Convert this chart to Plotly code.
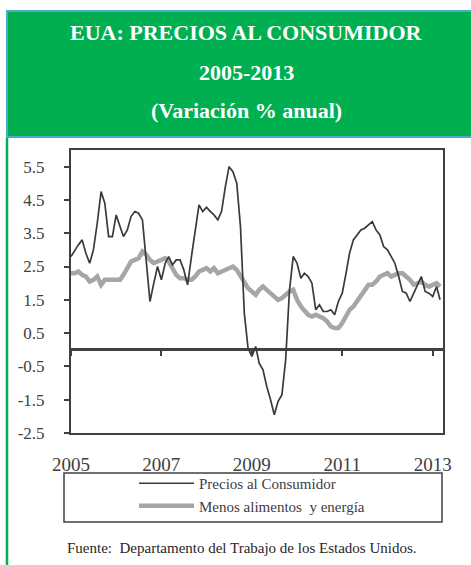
import plotly.graph_objects as go
import pandas as pd

# ---------------- data (monthly, Jan 2005 - Mar 2013) ----------------
cpi_2005 = [2.8, 3.0, 3.15, 3.3, 2.9, 2.6, 3.0, 3.8, 4.75, 4.4, 3.4, 3.4]
cpi_2006 = [4.05, 3.7, 3.4, 3.6, 4.0, 4.15, 4.1, 3.9, 2.7, 1.45, 2.0, 2.5]
cpi_2007 = [2.1, 2.6, 2.8, 2.55, 2.7, 2.7, 2.4, 1.95, 2.8, 3.5, 4.35, 4.15]
cpi_2008 = [4.28, 4.15, 4.05, 3.9, 4.15, 4.9, 5.5, 5.35, 5.0, 3.7, 1.1, 0.05]
cpi_2009 = [-0.2, 0.1, -0.4, -0.6, -1.1, -1.5, -1.95, -1.55, -1.35, -0.3, 1.8, 2.8]
cpi_2010 = [2.6, 2.15, 2.3, 2.2, 2.0, 1.2, 1.35, 1.15, 1.15, 1.2, 1.05, 1.45]
cpi_2011 = [1.7, 2.3, 2.9, 3.3, 3.45, 3.6, 3.65, 3.75, 3.85, 3.6, 3.45, 3.1]
cpi_2012 = [3.0, 2.8, 2.6, 2.2, 1.75, 1.7, 1.45, 1.7, 1.95, 2.2, 1.75, 1.7]
cpi_2013 = [1.6, 1.9, 1.5]

core_2005 = [2.3, 2.3, 2.35, 2.25, 2.2, 2.05, 2.1, 2.2, 1.95, 2.1, 2.1, 2.1]
core_2006 = [2.1, 2.1, 2.25, 2.45, 2.65, 2.7, 2.75, 2.95, 2.85, 2.7, 2.6, 2.65]
core_2007 = [2.7, 2.75, 2.65, 2.45, 2.25, 2.15, 2.15, 2.1, 2.1, 2.2, 2.35, 2.4]
core_2008 = [2.45, 2.35, 2.45, 2.3, 2.35, 2.4, 2.45, 2.5, 2.4, 2.2, 2.05, 1.85]
core_2009 = [1.75, 1.65, 1.8, 1.9, 1.8, 1.7, 1.6, 1.5, 1.55, 1.65, 1.75, 1.8]
core_2010 = [1.5, 1.3, 1.2, 1.05, 1.0, 1.05, 1.0, 0.95, 0.85, 0.7, 0.65, 0.65]
core_2011 = [0.8, 1.05, 1.2, 1.3, 1.45, 1.6, 1.8, 1.95, 1.95, 2.05, 2.2, 2.25]
core_2012 = [2.3, 2.2, 2.25, 2.3, 2.3, 2.2, 2.1, 1.95, 2.0, 2.05, 1.95, 1.9]
core_2013 = [1.95, 2.0, 1.9]

cpi = (cpi_2005 + cpi_2006 + cpi_2007 + cpi_2008 + cpi_2009 + cpi_2010
       + cpi_2011 + cpi_2012 + cpi_2013)
core = (core_2005 + core_2006 + core_2007 + core_2008 + core_2009 + core_2010
        + core_2011 + core_2012 + core_2013)
months = pd.date_range("2005-01-01", periods=len(cpi), freq="MS")

series_names = ["Precios al Consumidor", "Menos alimentos  y energía"]
year_ticks = ["2005", "2007", "2009", "2011", "2013"]
y_ticks = [5.5, 4.5, 3.5, 2.5, 1.5, 0.5, -0.5, -1.5, -2.5]
title_lines = ["EUA: PRECIOS AL CONSUMIDOR", "2005-2013", "(Variación % anual)"]
source_text = "Fuente:  Departamento del Trabajo de los Estados Unidos."

# ---------------- figure ----------------
W, H = 471, 565
L, R, T, B = 71, 28, 150, 132
pw, ph = W - L - R, H - T - B
YMIN, YMAX = -2.5, 6.0

def px_x(px):
    return (px - L) / pw

def px_y(py):
    return (H - B - py) / ph

FONT = "Liberation Serif"
DARK = "#404040"
GREEN = "#00B050"

fig = go.Figure()
fig.add_trace(go.Scatter(x=months, y=core, name=series_names[1], mode="lines",
                         line=dict(color="#A6A6A6", width=4.5), xaxis="x", yaxis="y"))
fig.add_trace(go.Scatter(x=months, y=cpi, name=series_names[0], mode="lines",
                         line=dict(color="#3A3A3A", width=1.7), xaxis="x2", yaxis="y"))

xrange = ["2005-01-01", "2013-03-25"]
tickvals = [f"{y}-01-01" for y in year_ticks]

fig.update_layout(
    width=W, height=H, autosize=False,
    margin=dict(l=L, r=R, t=T, b=B),
    paper_bgcolor="white", plot_bgcolor="white",
    font=dict(family=FONT, color=DARK),
    showlegend=True,
    legend=dict(x=px_x(134), y=px_y(467), xanchor="left", yanchor="top",
                bgcolor="rgba(0,0,0,0)", borderwidth=0,
                font=dict(family=FONT, size=15, color=DARK),
                itemwidth=55, traceorder="reversed", tracegroupgap=0),
    xaxis=dict(type="date", range=xrange, tickvals=tickvals, ticktext=year_ticks,
               showgrid=False, zeroline=False, ticks="",
               showline=True, linecolor=DARK, linewidth=2, mirror=True,
               tickfont=dict(family=FONT, size=19, color=DARK),
               ticklabelstandoff=13),
    xaxis2=dict(type="date", range=xrange, tickvals=tickvals, showticklabels=False,
                overlaying="x", anchor="free",
                position=(0 - YMIN) / (YMAX - YMIN), side="bottom",
                ticks="outside", ticklen=5, tickwidth=1.5, tickcolor=DARK,
                showgrid=False, zeroline=False, showline=False),
    yaxis=dict(range=[YMIN, YMAX], tickvals=y_ticks, ticktext=[f"{v:.1f}" for v in y_ticks],
               showgrid=False, zeroline=True, zerolinecolor=DARK, zerolinewidth=2.5,
               ticks="outside", ticklen=5, tickwidth=1.5, tickcolor=DARK,
               showline=True, linecolor=DARK, linewidth=2, mirror=True,
               tickfont=dict(family=FONT, size=17, color=DARK),
               ticklabelstandoff=16),
)

shapes = [
    # green title banner
    dict(type="rect", xref="paper", yref="paper",
         x0=px_x(7), x1=px_x(480), y0=px_y(137), y1=px_y(11),
         fillcolor=GREEN, line=dict(color="#4BACC6", width=2), layer="below"),
    # green frame line on the left
    dict(type="line", xref="paper", yref="paper",
         x0=px_x(7), x1=px_x(7), y0=px_y(138), y1=px_y(570),
         line=dict(color=GREEN, width=2.5)),
    # legend box
    dict(type="rect", xref="paper", yref="paper",
         x0=px_x(64), x1=px_x(442), y0=px_y(522), y1=px_y(473),
         line=dict(color=DARK, width=1.5), fillcolor="rgba(0,0,0,0)"),
]
fig.update_layout(shapes=shapes)

annotations = []
for text, py in zip(title_lines, [33, 72, 110]):
    annotations.append(dict(text=f"<b>{text}</b>", xref="paper", yref="paper",
                            x=px_x(246), y=px_y(py), xanchor="center", yanchor="middle",
                            showarrow=False,
                            font=dict(family=FONT, size=22, color="white")))
annotations.append(dict(text=source_text, xref="paper", yref="paper",
                        x=px_x(242), y=px_y(548), xanchor="center", yanchor="middle",
                        showarrow=False, font=dict(family=FONT, size=15, color="#262626")))
fig.update_layout(annotations=annotations)

fig.write_html("out.html", config={"displayModeBar": False},
               post_script="document.body.style.margin='0';")
